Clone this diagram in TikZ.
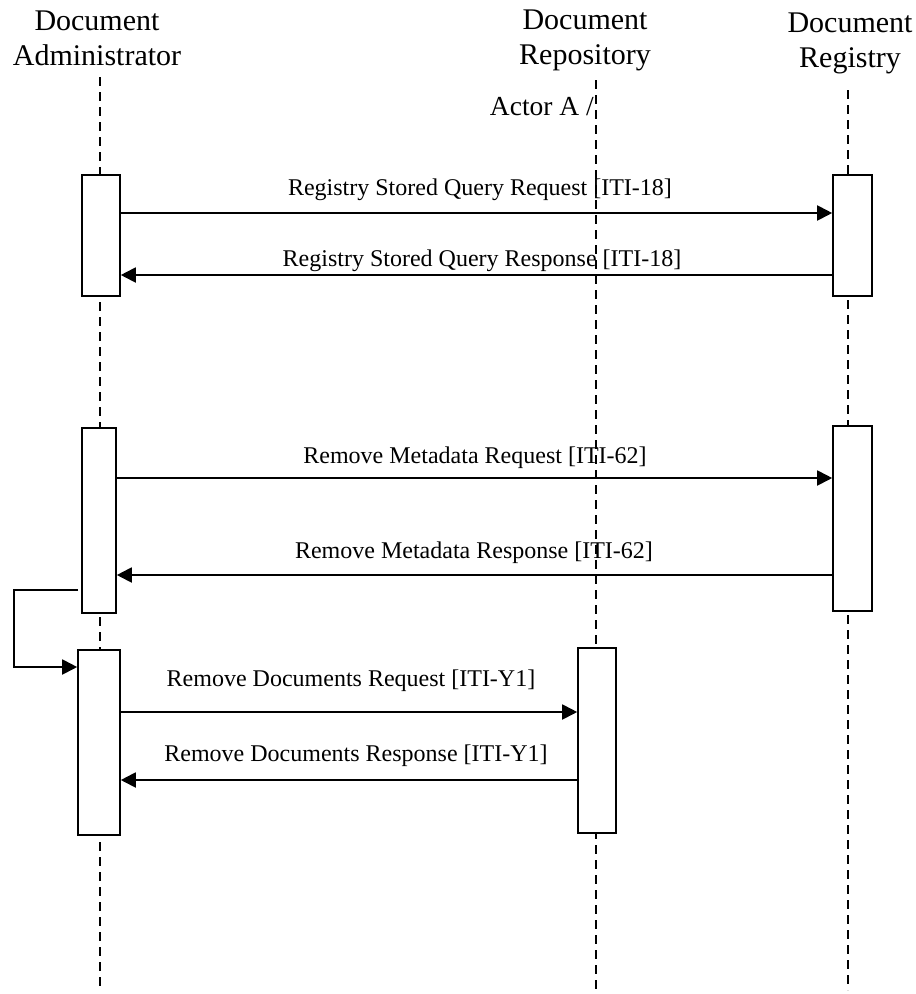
\documentclass[tikz,border=0pt]{standalone}
\usepackage{fontspec}
\setmainfont{Liberation Serif}
\usetikzlibrary{arrows.meta}
\begin{document}
\begin{tikzpicture}[x=1pt,y=-1pt,
  life/.style={dash pattern=on 9pt off 6pt, line width=1.6pt},
  act/.style={draw, fill=white, line width=1.6pt, inner sep=0pt, minimum height=185pt},
  msg/.style={line width=1.9pt, -{Triangle[length=15pt,width=15pt]}},
  lbl/.style={font=\fontsize{24}{28}\selectfont, inner sep=0pt},
  hdr/.style={font=\fontsize{30}{35}\selectfont, align=center, inner sep=0pt}]
\useasboundingbox (0,0) rectangle (916,994);
% headers
\node[hdr] (h1) at (97,38) {Document\\Administrator};
\node[hdr] (h2) at (585,40) {Document\\Repository};
\node[hdr] (h3) at (850,43) {Document\\Registry};
% lifelines
\coordinate (l1t) at (100,77); \coordinate (l1b) at (100,990);
\coordinate (l2t) at (596,80); \coordinate (l2b) at (596,990);
\coordinate (l3t) at (848,90); \coordinate (l3b) at (848,990);
\draw[life] (l1t) -- (l1b);
\draw[life] (l2t) -- (l2b);
\draw[life] (l3t) -- (l3b);
\node[font=\fontsize{27.5}{30}\selectfont, anchor=east, inner sep=0pt] (actor) at (594,107) {Actor A /};
% activation boxes
\node[act, minimum width=38pt, minimum height=121pt] (a1) at (101,235.5) {};
\node[act, minimum width=39pt, minimum height=121pt] (r1) at (852.5,235.5) {};
\node[act, minimum width=34pt] (a2) at (99,520.5) {};
\node[act, minimum width=39pt] (r2) at (852.5,518.5) {};
\node[act, minimum width=42pt] (a3) at (99,742.5) {};
\node[act, minimum width=38pt] (p1) at (597,740.5) {};
% message rows
\coordinate (y1) at (0,213);
\coordinate (y2) at (0,275);
\coordinate (y3) at (0,478);
\coordinate (y4) at (0,575);
\coordinate (y5) at (0,712);
\coordinate (y6) at (0,780);
\draw[msg] (a1.east |- y1) -- (r1.west |- y1);
\draw[msg] (r1.west |- y2) -- (a1.east |- y2);
\draw[msg] (a2.east |- y3) -- (r2.west |- y3);
\draw[msg] (r2.west |- y4) -- (a2.east |- y4);
\draw[msg] (a3.east |- y5) -- (p1.west |- y5);
\draw[msg] (p1.west |- y6) -- (a3.east |- y6);
% self loop
\coordinate (ls) at (78,590);
\coordinate (y7) at (0,667);
\draw[msg] (ls) -- (14,590) |- (a3.west |- y7);
% labels
\node[lbl] (t1) at (480,190) {Registry Stored Query Request [ITI-18]};
\node[lbl] (t2) at (482,261) {Registry Stored Query Response [ITI-18]};
\node[lbl] (t3) at (475,458) {Remove Metadata Request [ITI-62]};
\node[lbl] (t4) at (474,553) {Remove Metadata Response [ITI-62]};
\node[lbl] (t5) at (351,681) {Remove Documents Request [ITI-Y1]};
\node[lbl] (t6) at (356,756) {Remove Documents Response [ITI-Y1]};
\end{tikzpicture}
\end{document}
